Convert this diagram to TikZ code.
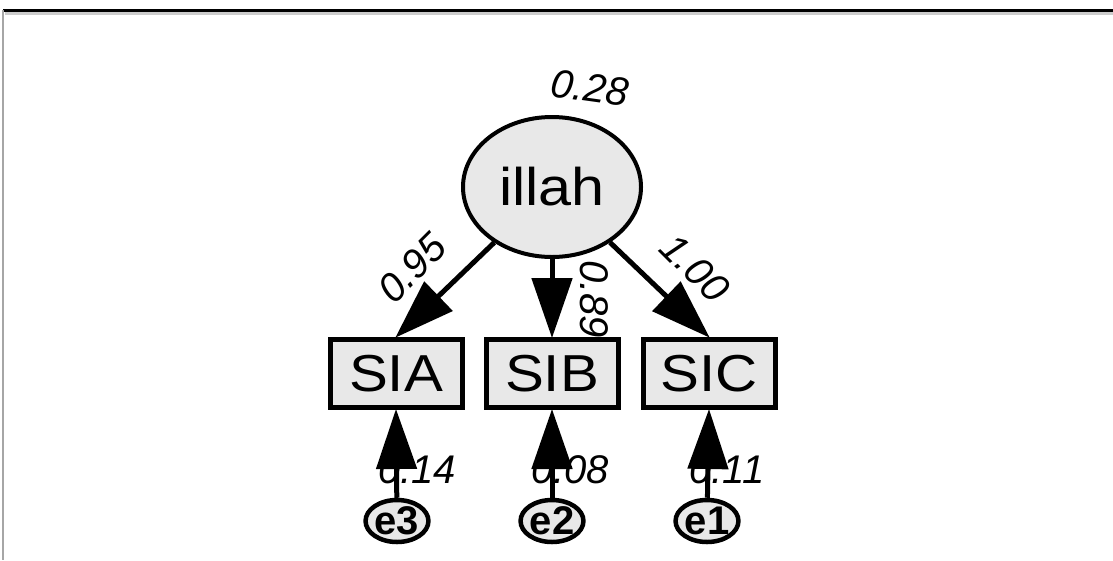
\documentclass[tikz,border=0pt]{standalone}
\usepackage{fontspec}
\setmainfont{Liberation Sans}
\usetikzlibrary{arrows.meta,shapes.geometric}
\newcommand{\wide}[1]{\scalebox{1.12}[1]{#1}}
\tikzset{
  latent/.style={draw, ellipse, line width=4pt, fill=gray!18, minimum width=178pt, minimum height=140pt, inner sep=0pt, font=\fontsize{53}{60}\selectfont},
  observed/.style={draw, rectangle, line width=5pt, fill=gray!18, minimum width=132pt, minimum height=68pt, inner sep=0pt, font=\fontsize{52}{60}\selectfont},
  errnode/.style={draw, ellipse, line width=4.5pt, fill=gray!18, minimum width=60pt, minimum height=42pt, inner sep=0pt, font=\fontsize{40}{44}\selectfont\bfseries},
  bigarrow/.style={line width=5pt, -{Triangle[length=60pt,width=40pt]}, shorten >=-1pt},
  coef/.style={font=\fontsize{40}{46}\selectfont\itshape, inner sep=0pt}
}
\begin{document}
\begin{tikzpicture}[x=1pt,y=-1pt]
\useasboundingbox (0,0) rectangle (1113,560);
\fill[white] (0,0) rectangle (1113,560);
% frame
\coordinate (ftl) at (3,10);
\coordinate (ftr) at (1113,10);
\coordinate (fbl) at (3,560);
\draw[gray!40, line width=3pt] (5,13.5) -- (1113,13.5);
\draw[line width=3pt] (ftl) -- (ftr);
\draw[gray!70, line width=1.5pt] (ftl) -- (fbl);
% nodes
\node[latent] (illah) at (552,187) {\wide{illah}};
\node[observed] (SIA) at (396,373.5) {\wide{SIA}};
\node[observed] (SIB) at (552,373.5) {\wide{SIB}};
\node[observed] (SIC) at (709,373.5) {\wide{SIC}};
\node[errnode] (e3) at (397,521) {e3};
\node[errnode] (e2) at (552,521) {e2};
\node[errnode] (e1) at (707,521) {e1};
% coefficient labels
\node[coef, rotate=-8] (l028) at (590,88) {0.28};
\node[coef, rotate=45] (l095) at (412,268) {0.95};
\node[coef, rotate=-90] (l089) at (594,299) {0.89};
\node[coef, rotate=-45] (l100) at (695,268) {1.00};
\node[coef] (l014) at (417,470) {0.14};
\node[coef] (l008) at (570,470) {0.08};
\node[coef] (l011) at (727,470) {0.11};
% arrows
\draw[bigarrow] (illah) -- (SIA.north);
\draw[bigarrow] (illah) -- (SIB.north);
\draw[bigarrow] (illah) -- (SIC.north);
\draw[bigarrow] (e3) -- (SIA.south);
\draw[bigarrow] (e2) -- (SIB.south);
\draw[bigarrow] (e1) -- (SIC.south);
\end{tikzpicture}
\end{document}
